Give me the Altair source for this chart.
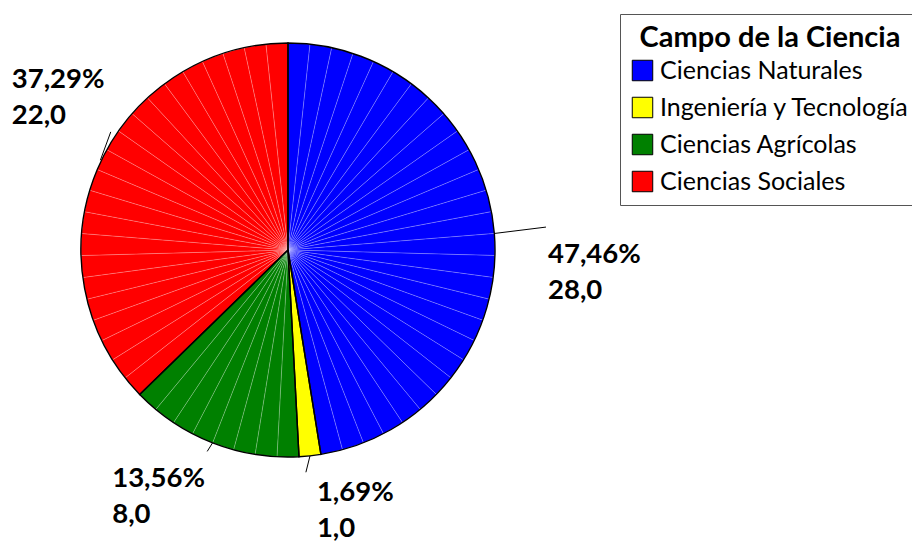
import math
import altair as alt
import pandas as pd

# ---- data ----
categories = ["Ciencias Naturales", "Ingeniería y Tecnología", "Ciencias Agrícolas", "Ciencias Sociales"]
counts = [28, 1, 8, 22]
colors = ["#0000FF", "#FFFF00", "#008000", "#FF0000"]

total = sum(counts)

# ---- layout constants (pixels inside the view) ----
CX, CY, R = 280, 242, 207
FONT = "Lato"

# unit slices (one wedge per unit, like the reference)
unit_rows = []
k = 0
for ci, (cat, n) in enumerate(zip(categories, counts)):
    for _ in range(n):
        unit_rows.append({"cat": cat, "one": 1, "idx": k})
        k += 1
units = pd.DataFrame(unit_rows)

summary = pd.DataFrame({"cat": categories, "n": counts, "ci": range(len(categories))})


def fmt(v, d):
    return f"{v:.{d}f}".replace(".", ",")


# leader lines and labels from mid angles
cum = 0
line_rows, label_rows = [], []
# per-label geometry: (start angle offset deg, start r, end angle offset deg, end r, label dx, label dy)
geom = [
    (0.0, R, -0.5, R + 52, 2, 36),
    (0.0, R, 1.5, R + 16, 11, 28.5),
    (0.0, R, 0.5, R + 10, -95, 35.5),
    (2.7, R + 1, 10.8, R + 6, -99, -44),
]
for (cat, n), g in zip(zip(categories, counts), geom):
    mid = (cum + n / 2) / total * 360
    cum += n
    a1 = math.radians(mid + g[0])
    a2 = math.radians(mid + g[2])
    x1, y1 = CX + g[1] * math.sin(a1), CY - g[1] * math.cos(a1)
    x2, y2 = CX + g[3] * math.sin(a2), CY - g[3] * math.cos(a2)
    line_rows.append({"x": x1, "y": y1, "x2": x2, "y2": y2})
    label_rows.append({
        "x": x2 + g[4],
        "y": y2 + g[5],
        "label": fmt(n / total * 100, 2) + "%\n" + fmt(n, 1),
    })
lines = pd.DataFrame(line_rows)
labels = pd.DataFrame(label_rows)

color_scale = alt.Scale(domain=categories, range=colors)

units_layer = alt.Chart(units).mark_arc(
    outerRadius=R, stroke="white", strokeOpacity=0.35, strokeWidth=0.6
).encode(
    theta=alt.Theta("one:Q", stack=True),
    order=alt.Order("idx:Q"),
    color=alt.Color(
        "cat:N",
        scale=color_scale,
        sort=categories,
        legend=alt.Legend(title="Campo de la Ciencia"),
    ),
    x=alt.value(CX),
    y=alt.value(CY),
)

outline_layer = alt.Chart(summary).mark_arc(
    outerRadius=R, fillOpacity=0, stroke="black", strokeWidth=1.4
).encode(
    theta=alt.Theta("n:Q", stack=True),
    order=alt.Order("ci:Q"),
    x=alt.value(CX),
    y=alt.value(CY),
)

line_layer = alt.Chart(lines).mark_rule(color="black", strokeWidth=1).encode(
    x=alt.X("x:Q", scale=None, axis=None),
    y=alt.Y("y:Q", scale=None, axis=None),
    x2="x2:Q",
    y2="y2:Q",
)

label_layer = alt.Chart(labels).mark_text(
    align="left", baseline="alphabetic", font=FONT, fontSize=27.5, fontWeight="bold",
    lineBreak="\n", lineHeight=36, color="black"
).encode(
    x=alt.X("x:Q", scale=None, axis=None),
    y=alt.Y("y:Q", scale=None, axis=None),
    text="label:N",
)

chart = alt.layer(units_layer, outline_layer, line_layer, label_layer).properties(
    width=904, height=534, autosize=alt.AutoSizeParams(type="none"), padding=0
).configure_view(stroke=None).configure_legend(
    orient="none",
    legendX=612,
    legendY=6,
    strokeColor="#555555",
    fillColor="white",
    padding=10,
    titleFont=FONT,
    titleFontSize=29,
    titleFontWeight="bold",
    titleColor="black",
    titleAnchor="middle",
    titlePadding=5,
    titleLimit=500,
    labelFont=FONT,
    labelFontSize=25,
    labelColor="black",
    labelOffset=5,
    labelLimit=400,
    symbolType="square",
    symbolSize=420,
    symbolStrokeColor="black",
    symbolStrokeWidth=1,
    symbolOpacity=1,
    rowPadding=11,
)

chart.save("out.html", embed_options={"renderer": "svg", "actions": False})
